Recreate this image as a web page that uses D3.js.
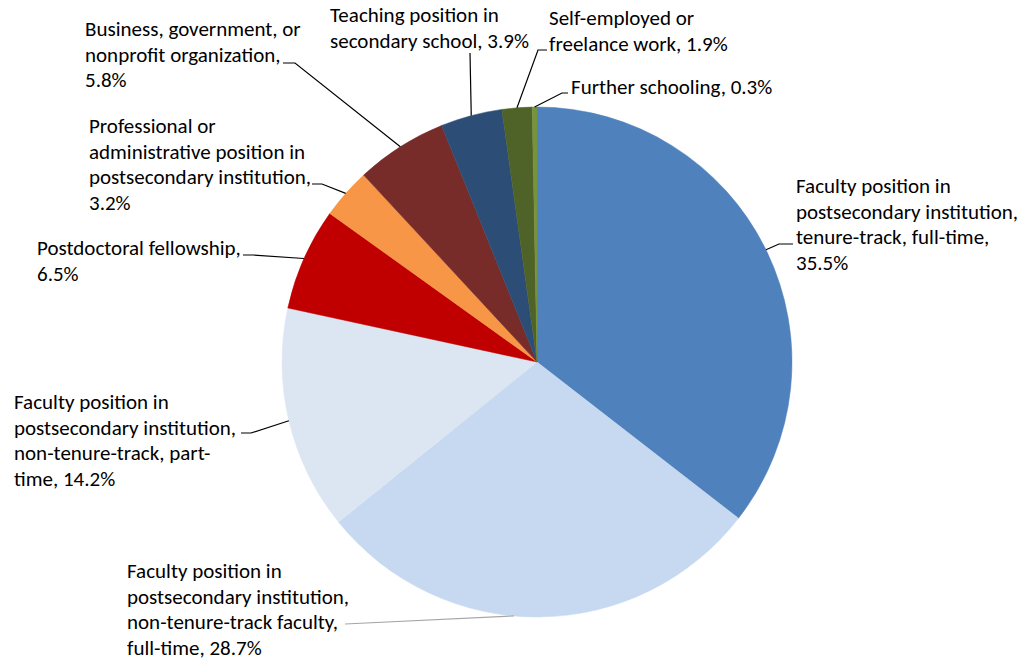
<!DOCTYPE html>
<html>
<head>
<meta charset="utf-8">
<script src="https://cdn.jsdelivr.net/npm/d3@7"></script>
<style>
  html, body { margin: 0; padding: 0; background: #fff; }
  svg { display: block; }
  text { font-family: Calibri, Carlito, Lato, sans-serif; font-size: 21px; fill: #000; }
</style>
</head>
<body>
<svg id="chart" width="1031" height="662"></svg>
<script>
// ---- data ----
const categories = [
  "Faculty position in postsecondary institution, tenure-track, full-time",
  "Faculty position in postsecondary institution, non-tenure-track faculty, full-time",
  "Faculty position in postsecondary institution, non-tenure-track, part-time",
  "Postdoctoral fellowship",
  "Professional or administrative position in postsecondary institution",
  "Business, government, or nonprofit organization",
  "Teaching position in secondary school",
  "Self-employed or freelance work",
  "Further schooling"
];
const values = [35.5, 28.7, 14.2, 6.5, 3.2, 5.8, 3.9, 1.9, 0.3];
const labelLines = [
  ["Faculty position in", "postsecondary institution,", "tenure-track, full-time,", "35.5%"],
  ["Faculty position in", "postsecondary institution,", "non-tenure-track faculty,", "full-time, 28.7%"],
  ["Faculty position in", "postsecondary institution,", "non-tenure-track, part-", "time, 14.2%"],
  ["Postdoctoral fellowship,", "6.5%"],
  ["Professional or", "administrative position in", "postsecondary institution,", "3.2%"],
  ["Business, government, or", "nonprofit organization,", "5.8%"],
  ["Teaching position in", "secondary school, 3.9%"],
  ["Self-employed or", "freelance work, 1.9%"],
  ["Further schooling, 0.3%"]
];

// ---- styling / layout (not data) ----
const colors = ["#4F81BD", "#C6D9F0", "#DCE6F2", "#C00000", "#F79646", "#772C2A", "#2C4D75", "#4F6228", "#77933C"];
// x, first-line y (baseline), leader start (sx, sy), elbow x (ex), leader color, angle shift of leader end
const labelLayout = [
  {x: 796, y: 193, sx: 793, sy: 244, ex: 779, color: "#000", shift: 0},
  {x: 127, y: 578, sx: 345, sy: 624, ex: 345, color: "#A6A6A6", shift: 0.1},
  {x: 14,  y: 409, sx: 241, sy: 433, ex: 251, color: "#000", shift: 0},
  {x: 37,  y: 255, sx: 243, sy: 255, ex: 253, color: "#000", shift: 0},
  {x: 89,  y: 133, sx: 312, sy: 184, ex: 322, color: "#000", shift: 0},
  {x: 85,  y: 36,  sx: 283, sy: 63,  ex: 295, color: "#000", shift: 0},
  {x: 330, y: 22,  sx: 470, sy: 53,  ex: 470, color: "#000", shift: 0},
  {x: 549, y: 25,  sx: 547, sy: 50,  ex: 538, color: "#000", shift: 0},
  {x: 571, y: 94,  sx: 568, sy: 93,  ex: 562, color: "#000", shift: 0}
];
const lineHeight = 25.5;
const cx = 537, cy = 362, radius = 255;

const svg = d3.select("#chart");
const g = svg.append("g").attr("transform", `translate(${cx},${cy})`);

const pie = d3.pie().sort(null).value(d => d);
const arcs = pie(values);
const arc = d3.arc().innerRadius(0).outerRadius(radius);

g.selectAll("path.slice")
  .data(arcs)
  .enter().append("path")
  .attr("class", "slice")
  .attr("d", arc)
  .attr("fill", (d, i) => colors[i])
  .attr("stroke", (d, i) => colors[i])
  .attr("stroke-width", 0.5);

// leader lines
arcs.forEach((d, i) => {
  const L = labelLayout[i];
  const mid = (d.startAngle + d.endAngle) / 2 + L.shift;
  const px = cx + radius * Math.sin(mid);
  const py = cy - radius * Math.cos(mid);
  const pts = [[L.sx, L.sy], [L.ex, L.sy], [px, py]];
  svg.append("path")
    .attr("d", d3.line()(pts))
    .attr("fill", "none")
    .attr("stroke", L.color)
    .attr("stroke-width", 1.2);
});

// labels
labelLines.forEach((lines, i) => {
  const L = labelLayout[i];
  const t = svg.append("text").attr("x", L.x).attr("y", L.y);
  lines.forEach((ln, j) => {
    t.append("tspan").attr("x", L.x).attr("y", L.y + j * lineHeight).text(ln);
  });
});
</script>
</body>
</html>
